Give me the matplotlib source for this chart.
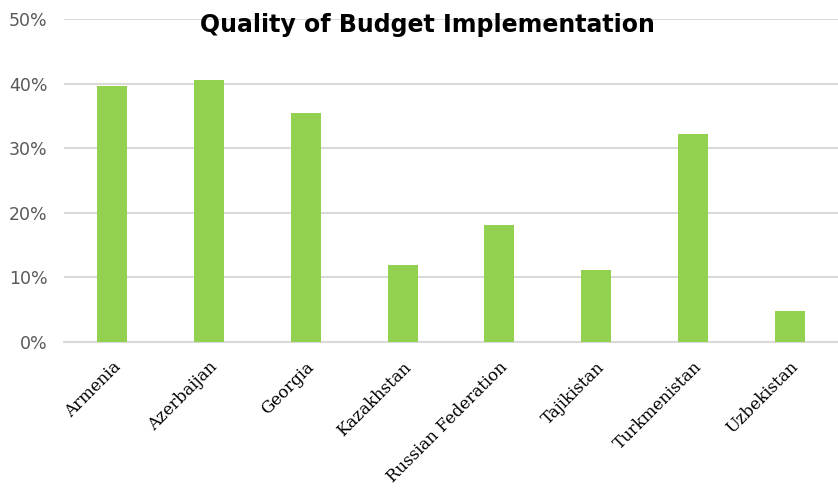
import matplotlib.pyplot as plt
import numpy as np

countries = ["Armenia", "Azerbaijan", "Georgia", "Kazakhstan",
             "Russian Federation", "Tajikistan", "Turkmenistan", "Uzbekistan"]
quality = [39.6, 40.5, 35.4, 11.9, 18.1, 11.1, 32.2, 4.8]
yTicks = [0, 10, 20, 30, 40, 50]

fig = plt.figure(figsize=(8.38, 4.94), dpi=100)
ax = fig.add_axes([0.0764, 0.3077, 0.9236, 0.6538])

x = np.arange(len(countries))
ax.bar(x, quality, width=0.31, color="#92d050", zorder=3)

ax.set_xlim(-0.5, len(countries) - 0.5)
ax.set_ylim(0, 50)
ax.set_yticks(yTicks)
ax.set_yticklabels([f"{t}%" for t in yTicks], fontsize=12.5, color="#595959",
                   family="DejaVu Sans")
ax.yaxis.grid(True, color="#d9d9d9", linewidth=1.5, zorder=0)
ax.tick_params(axis="y", length=0, pad=12)
ax.tick_params(axis="x", length=0, pad=12)

ax.set_xticks(x)
ax.set_xticklabels(countries, rotation=45, ha="right", va="top",
                   rotation_mode="anchor", fontsize=12, family="DejaVu Serif")

for s in ["top", "right", "left"]:
    ax.spines[s].set_visible(False)
ax.spines["bottom"].set_color("#d9d9d9")
ax.spines["bottom"].set_linewidth(1.5)

fig.text(0.51, 0.95, "Quality of Budget Implementation", ha="center",
         va="center", fontsize=17, fontweight="bold", family="DejaVu Sans")

fig.savefig("out.png", dpi=100, facecolor="w")
